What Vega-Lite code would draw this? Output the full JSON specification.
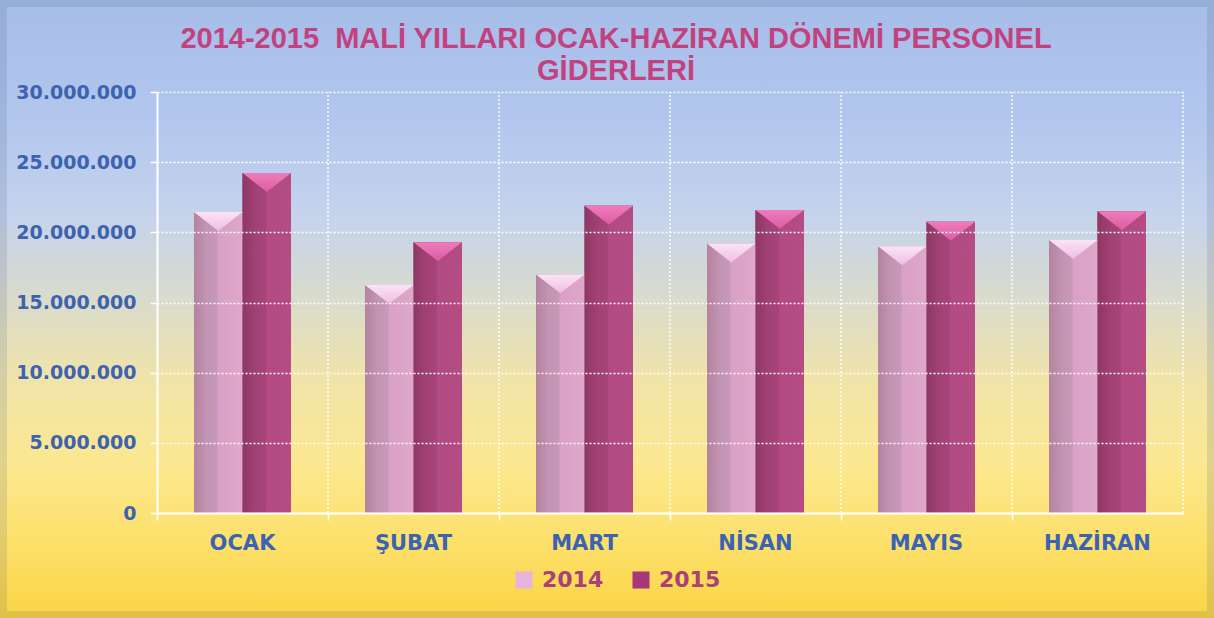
{
  "$schema": "https://vega.github.io/schema/vega-lite/v6.json",
  "width": 1214,
  "height": 618,
  "autosize": {"type": "none"},
  "padding": 0,
  "title": {
    "text": ["2014-2015\u00a0 MALİ YILLARI OCAK-HAZİRAN DÖNEMİ PERSONEL", "GİDERLERİ"],
    "font": "Liberation Sans",
    "fontSize": 29,
    "fontWeight": "bold",
    "color": "#c2427f",
    "lineHeight": 32,
    "anchor": "middle",
    "frame": "group",
    "dx": 9,
    "offset": -93
  },
  "data": {
    "values": [
      {"ay": "OCAK", "yil": "2014", "tutar": 21450000},
      {"ay": "OCAK", "yil": "2015", "tutar": 24230000},
      {"ay": "ŞUBAT", "yil": "2014", "tutar": 16250000},
      {"ay": "ŞUBAT", "yil": "2015", "tutar": 19300000},
      {"ay": "MART", "yil": "2014", "tutar": 17000000},
      {"ay": "MART", "yil": "2015", "tutar": 21900000},
      {"ay": "NİSAN", "yil": "2014", "tutar": 19200000},
      {"ay": "NİSAN", "yil": "2015", "tutar": 21600000},
      {"ay": "MAYIS", "yil": "2014", "tutar": 19000000},
      {"ay": "MAYIS", "yil": "2015", "tutar": 20750000},
      {"ay": "HAZİRAN", "yil": "2014", "tutar": 19450000},
      {"ay": "HAZİRAN", "yil": "2015", "tutar": 21500000}
    ]
  },
  "encoding": {
    "x": {
      "field": "ay",
      "type": "nominal",
      "sort": null,
      "scale": {"range": [157, 1183], "paddingInner": 0, "paddingOuter": 0},
      "axis": {
        "title": null,
        "zindex": 1,
        "labelAngle": 0,
        "bandPosition": 0,
        "offset": -105,
        "labelFont": "DejaVu Sans",
        "labelFontSize": 21,
        "labelFontWeight": "bold",
        "labelColor": "#3b63b3",
        "labelPadding": 12,
        "domainColor": "white",
        "domainWidth": 2,
        "tickColor": "white",
        "tickWidth": 1.5,
        "tickSize": 7,
        "grid": false
      }
    },
    "y": {
      "field": "tutar",
      "type": "quantitative",
      "scale": {"domain": [0, 30000000], "nice": false, "range": [513, 92]},
      "axis": {
        "title": null,
        "zindex": 1,
        "offset": -157,
        "values": [0, 5000000, 10000000, 15000000, 20000000, 25000000, 30000000],
        "format": ",d",
        "labelFont": "DejaVu Sans",
        "labelFontSize": 19,
        "labelFontWeight": "bold",
        "labelColor": "#3d63b0",
        "labelPadding": 14,
        "domainColor": "white",
        "domainWidth": 2,
        "tickColor": "white",
        "tickWidth": 1.5,
        "tickSize": 7,
        "grid": true,
        "gridColor": "white",
        "gridDash": [2, 2],
        "gridWidth": 1.5,
        "gridOpacity": 0.95
      }
    }
  },
  "layer": [
    {
      "data": {"values": [{"k": 1}]},
      "mark": {
        "type": "rect",
        "stroke": "#3c4c74",
        "strokeOpacity": 0.14,
        "strokeWidth": 14,
        "fill": {
          "gradient": "linear",
          "x1": 0, "y1": 0, "x2": 0, "y2": 1,
          "stops": [
            {"offset": 0, "color": "#a6bde9"},
            {"offset": 0.2, "color": "#b3c7ee"},
            {"offset": 0.35, "color": "#c5d3ec"},
            {"offset": 0.5, "color": "#dcdcc8"},
            {"offset": 0.62, "color": "#f1e4a8"},
            {"offset": 0.75, "color": "#fbe890"},
            {"offset": 0.88, "color": "#fde06a"},
            {"offset": 1, "color": "#fbd443"}
          ]
        }
      },
      "encoding": {
        "x": {"value": 0},
        "x2": {"value": "width"},
        "y": {"value": 0},
        "y2": {"value": "height"}
      }
    },
    {
      "transform": [{"filter": "datum.yil == '2015'"}],
      "mark": {
        "type": "rule",
        "zindex": 1,
        "color": "white",
        "strokeDash": [2, 2],
        "strokeWidth": 1.5,
        "opacity": 0.95
      },
      "encoding": {
        "x": {"field": "ay", "type": "nominal", "sort": null, "bandPosition": 1},
        "y": {"datum": 0},
        "y2": {"datum": 30000000}
      }
    },
    {
      "mark": {"type": "bar", "zindex": 2},
      "encoding": {
        "xOffset": {"field": "yil", "type": "nominal", "scale": {"paddingOuter": 0.763, "paddingInner": 0}},
        "color": {
          "field": "yil",
          "type": "nominal",
          "scale": {"domain": ["2014", "2015"], "range": ["#e8b4dc", "#a8367a"]},
          "legend": {
            "title": null,
            "orient": "none",
            "legendX": 513,
            "legendY": 569,
            "direction": "horizontal",
            "padding": 0,
            "symbolType": "square",
            "symbolSize": 290,
            "symbolStrokeWidth": 0,
            "labelFont": "DejaVu Sans",
            "labelFontSize": 22,
            "labelFontWeight": "bold",
            "labelColor": "#a8407a",
            "labelOffset": 7,
            "columnPadding": 26
          }
        }
      }
    },
    {
      "transform": [{"filter": "datum.yil == '2014'"}],
      "mark": {
        "type": "bar",
        "zindex": 2,
        "fill": {
          "gradient": "linear",
          "x1": 0, "y1": 0, "x2": 1, "y2": 0,
          "stops": [
            {"offset": 0, "color": "#b3839f"},
            {"offset": 0.25, "color": "#c293b2"},
            {"offset": 0.47, "color": "#c898b8"},
            {"offset": 0.5, "color": "#d9a1c5"},
            {"offset": 1, "color": "#dea8ca"}
          ]
        }
      },
      "encoding": {
        "xOffset": {"field": "yil", "type": "nominal"}
      }
    },
    {
      "transform": [{"filter": "datum.yil == '2015'"}],
      "mark": {
        "type": "bar",
        "zindex": 2,
        "fill": {
          "gradient": "linear",
          "x1": 0, "y1": 0, "x2": 1, "y2": 0,
          "stops": [
            {"offset": 0, "color": "#8e3763"},
            {"offset": 0.25, "color": "#a04174"},
            {"offset": 0.47, "color": "#a64479"},
            {"offset": 0.5, "color": "#b14b82"},
            {"offset": 1, "color": "#b54c84"}
          ]
        }
      },
      "encoding": {
        "xOffset": {"field": "yil", "type": "nominal"}
      }
    },
    {
      "transform": [{"filter": "datum.yil == '2014'"}],
      "mark": {
        "type": "point",
        "zindex": 3,
        "filled": true,
        "shape": "M-1,0L1,0L0,0.78Z",
        "size": 2352,
        "opacity": 1,
        "strokeWidth": 0,
        "fill": {
          "gradient": "linear",
          "x1": 0, "y1": 0, "x2": 0, "y2": 1,
          "stops": [
            {"offset": 0, "color": "#fbe4f6"},
            {"offset": 1, "color": "#efbde3"}
          ]
        }
      },
      "encoding": {
        "xOffset": {"field": "yil", "type": "nominal"}
      }
    },
    {
      "transform": [{"filter": "datum.yil == '2015'"}],
      "mark": {
        "type": "point",
        "zindex": 3,
        "filled": true,
        "shape": "M-1,0L1,0L0,0.78Z",
        "size": 2352,
        "opacity": 1,
        "strokeWidth": 0,
        "fill": {
          "gradient": "linear",
          "x1": 0, "y1": 0, "x2": 0, "y2": 1,
          "stops": [
            {"offset": 0, "color": "#ee7cbc"},
            {"offset": 1, "color": "#dc5ca3"}
          ]
        }
      },
      "encoding": {
        "xOffset": {"field": "yil", "type": "nominal"}
      }
    }
  ],
  "config": {
    "locale": {
      "number": {"decimal": ",", "thousands": ".", "grouping": [3], "currency": ["", " TL"]}
    },
    "view": {"stroke": null}
  }
}
